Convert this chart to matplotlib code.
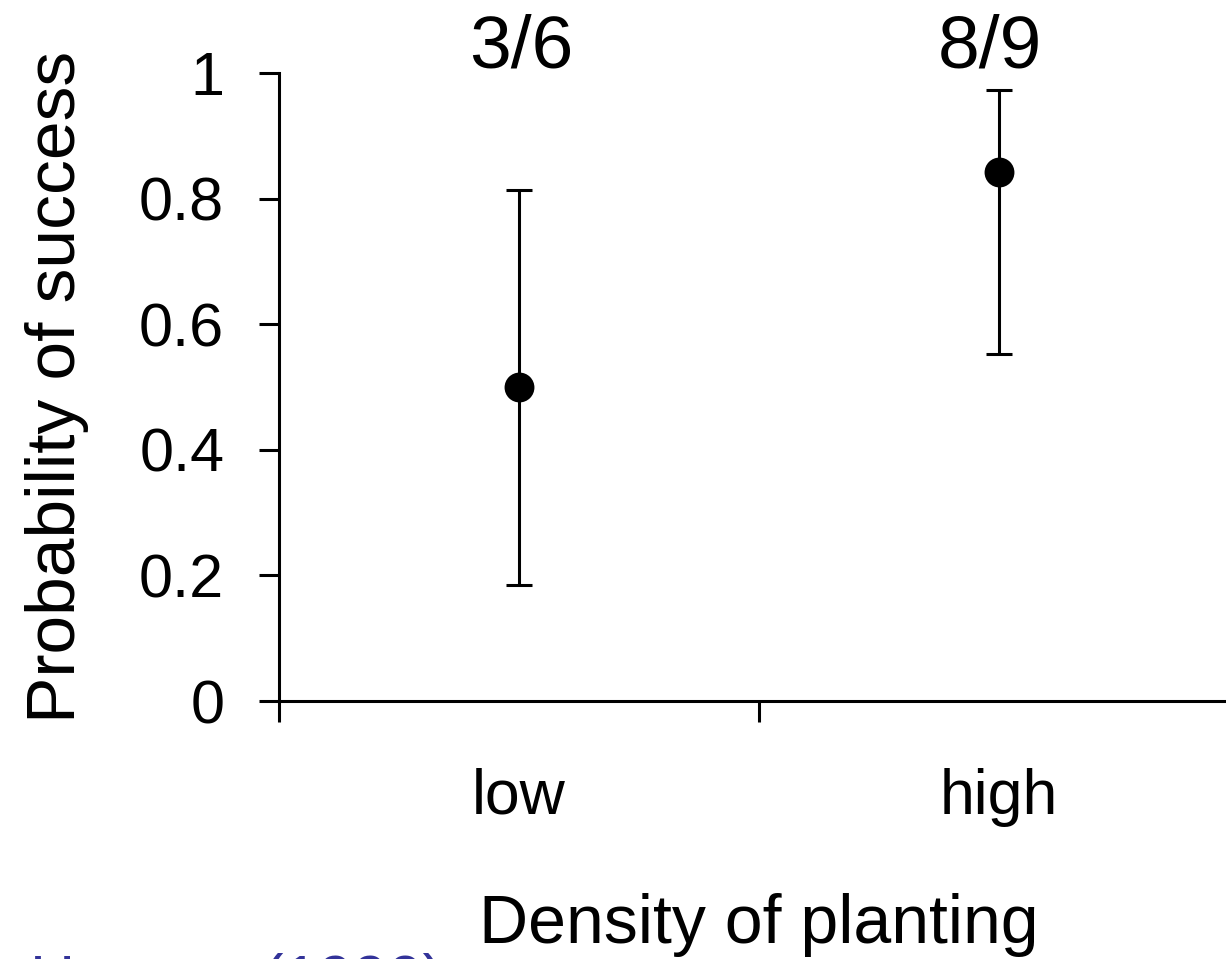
import matplotlib.pyplot as plt

plt.rcParams['font.family'] = ['Liberation Sans', 'DejaVu Sans']

groups = ['low', 'high']
prob = [0.50, 0.843]
ci_low = [0.184, 0.553]
ci_high = [0.813, 0.973]
counts = ['3/6', '8/9']
count_x = [0.505, 1.48]

xpos = [0.5, 1.5]
err = [[p - lo for p, lo in zip(prob, ci_low)],
       [hi - p for p, hi in zip(prob, ci_high)]]

fig = plt.figure(figsize=(12.26, 9.59), dpi=100)
ax = fig.add_axes([279 / 1226, 258 / 959, 960 / 1226, 628 / 959])

ax.errorbar(xpos, prob, yerr=err, fmt='none', ecolor='black',
            elinewidth=2.2, capsize=9.5, capthick=2.2, clip_on=False)
ax.plot(xpos, prob, 'o', color='black', markersize=21.5, markeredgewidth=0,
        clip_on=False)

for x, c in zip(count_x, counts):
    ax.text(x, 1.008, c, ha='center', va='baseline', fontsize=54, clip_on=False)

ax.set_xlim(0, 2)
ax.set_ylim(0, 1)
ax.spines['top'].set_visible(False)
ax.spines['right'].set_visible(False)
for s in ['left', 'bottom']:
    ax.spines[s].set_linewidth(2.2)

ax.set_yticks([0, 0.2, 0.4, 0.6, 0.8, 1.0])
ax.set_yticklabels(['0', '0.2', '0.4', '0.6', '0.8', '1'])
ax.tick_params(axis='y', length=14.5, width=2.2, labelsize=44, pad=25)

ax.set_xticks([0, 1, 2])
ax.set_xticklabels(['', '', ''])
ax.tick_params(axis='x', which='major', length=15, width=2.2)
ax.set_xticks(xpos, minor=True)
ax.set_xticklabels(groups, minor=True)
ax.tick_params(axis='x', which='minor', length=0, labelsize=45, pad=48)

ax.set_xlabel('Density of planting', fontsize=49, labelpad=48)
ax.set_ylabel('Probability of success', fontsize=50, labelpad=36)

fig.text(30 / 1226, 6 / 959, 'Hanson (1990)', color='#333399', fontsize=45,
         ha='left', va='top')

fig.savefig('out.png', dpi=100)
